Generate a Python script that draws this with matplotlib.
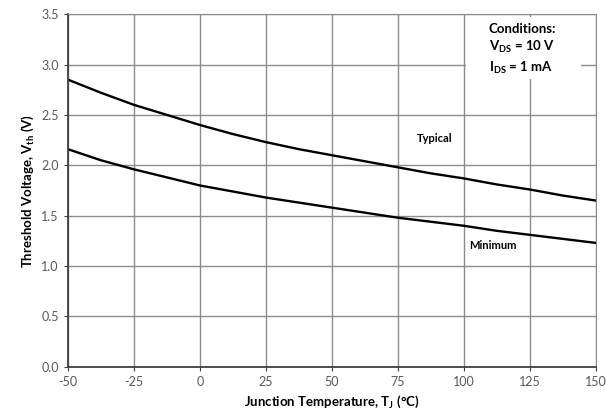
import numpy as np
import matplotlib.pyplot as plt
from matplotlib.patches import Rectangle

# values
temp = [-50, -37.5, -25, -12.5, 0, 12.5, 25, 37.5, 50, 62.5, 75, 87.5, 100, 112.5, 125, 137.5, 150]
vth_typical = [2.85, 2.72, 2.60, 2.50, 2.40, 2.31, 2.23, 2.16, 2.10, 2.04, 1.98, 1.92, 1.87, 1.81, 1.76, 1.70, 1.65]
vth_minimum = [2.16, 2.05, 1.96, 1.88, 1.80, 1.74, 1.68, 1.63, 1.58, 1.53, 1.48, 1.44, 1.40, 1.35, 1.31, 1.27, 1.23]

xticks = [-50, -25, 0, 25, 50, 75, 100, 125, 150]
yticks = [0.0, 0.5, 1.0, 1.5, 2.0, 2.5, 3.0, 3.5]

plt.rcParams['font.family'] = ['Lato', 'DejaVu Sans']

fig = plt.figure(figsize=(6.06, 4.15), dpi=100)
ax = fig.add_axes([0.112, 0.116, 0.871, 0.85])

ax.plot(temp, vth_typical, color='black', lw=1.7)
ax.plot(temp, vth_minimum, color='black', lw=1.7)

ax.set_xlim(-50, 150)
ax.set_ylim(0, 3.5)
ax.set_xticks(xticks)
ax.set_yticks(yticks)
ax.set_xticklabels([str(t) for t in xticks])
ax.set_yticklabels(['%.1f' % v for v in yticks])
ax.grid(True, color='#8c8c8c', lw=1)
ax.set_axisbelow(True)

for s in ['top', 'right']:
    ax.spines[s].set_color('#8c8c8c')
for s in ['left', 'bottom']:
    ax.spines[s].set_color('#404040')
    ax.spines[s].set_linewidth(1.3)
ax.tick_params(axis='both', direction='out', length=3, color='#404040',
               labelcolor='#595959', labelsize=9)

ax.set_xlabel('Junction Temperature, T$_\\mathregular{J}$ (°C)', fontsize=9.5, fontweight='bold')
ax.set_ylabel('Threshold Voltage, V$_\\mathregular{th}$ (V)', fontsize=9.5, fontweight='bold')

ax.text(89, 2.27, 'Typical', fontsize=8, fontweight='bold', ha='center', va='center')
ax.text(111, 1.20, 'Minimum', fontsize=8, fontweight='bold', ha='center', va='center')

# white box for the conditions, hides the grid behind it
ax.add_patch(Rectangle((101, 2.86), 43.5, 0.61, facecolor='white', edgecolor='none', zorder=4))
ax.text(109.5, 3.15, 'Conditions:\nV$_\\mathregular{DS}$ = 10 V\nI$_\\mathregular{DS}$ = 1 mA',
        fontsize=9.5, fontweight='bold', ha='left', va='center', linespacing=1.35, zorder=5)

plt.savefig('out.png', dpi=100)
